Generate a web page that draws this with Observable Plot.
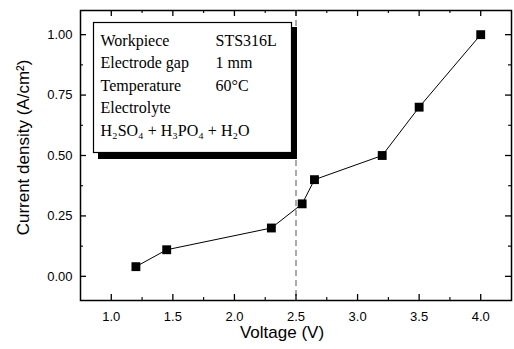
<!DOCTYPE html>
<html>
<head>
<meta charset="utf-8">
<script src="https://cdn.jsdelivr.net/npm/d3@7"></script>
<script src="https://cdn.jsdelivr.net/npm/@observablehq/plot@0.6"></script>
<style>
  html, body { margin: 0; padding: 0; background: #fff; }
  #chart svg { display: block; }
</style>
</head>
<body>
<div id="chart"></div>
<script>
// ---- data ----
const voltage = [1.2, 1.45, 2.3, 2.55, 2.65, 3.2, 3.5, 4.0];
const currentDensity = [0.04, 0.11, 0.2, 0.3, 0.4, 0.5, 0.7, 1.0];
const xTicks = [1.0, 1.5, 2.0, 2.5, 3.0, 3.5, 4.0];
const xMinorTicks = [1.25, 1.75, 2.25, 2.75, 3.25, 3.75];
const yTicks = [0.0, 0.25, 0.5, 0.75, 1.0];
const yMinorTicks = [0.125, 0.375, 0.625, 0.875];
const refLines = [2.5];
const legendLabels = ["Workpiece", "Electrode gap", "Temperature", "Electrolyte", "H\u2082SO\u2084 + H\u2083PO\u2084 + H\u2082O"];
const legendValues = ["STS316L", "1 mm", "60\u00B0C", "", ""];
const xLabel = "Voltage (V)";
const yLabel = "Current density (A/cm\u00B2)";

const rows = voltage.map((v, i) => ({v, c: currentDensity[i]}));

// ---- layout ----
const W = 514, H = 349, mL = 80, mR = 3, mT = 10, mB = 49;
const FH = H - mT - mB, FW = W - mL - mR;
const serif = "'Liberation Serif', 'Times New Roman', serif";
const sans = "'Liberation Sans', Arial, sans-serif";

const legendMarks = [];
legendLabels.forEach((t, i) => {
  legendMarks.push(Plot.text([t], {text: d => d, frameAnchor: "top-left", textAnchor: "start", lineAnchor: "middle",
    dx: 20, dy: 30 + i * 22.5, fontFamily: serif, fontSize: 16, fill: "black"}));
  if (legendValues[i]) legendMarks.push(Plot.text([legendValues[i]], {text: d => d, frameAnchor: "top-left", textAnchor: "start", lineAnchor: "middle",
    dx: 135, dy: 30 + i * 22.5, fontFamily: serif, fontSize: 16, fill: "black"}));
});

const chart = Plot.plot({
  width: W, height: H,
  marginLeft: mL, marginRight: mR, marginTop: mT, marginBottom: mB,
  style: {fontFamily: sans, background: "white", color: "black"},
  x: {domain: [0.75, 4.25]},
  y: {domain: [-0.1, 1.1]},
  marks: [
    Plot.ruleX(refLines, {x: d => d, stroke: "#555", strokeDasharray: "6,4", strokeWidth: 1}),
    // ticks (inward, mirrored)
    Plot.tickX(xTicks, {x: d => d, insetTop: FH - 6, stroke: "black", strokeWidth: 1.3}),
    Plot.tickX(xTicks, {x: d => d, insetBottom: FH - 6, stroke: "black", strokeWidth: 1.3}),
    Plot.tickX(xMinorTicks, {x: d => d, insetTop: FH - 3, stroke: "black", strokeWidth: 1.1}),
    Plot.tickX(xMinorTicks, {x: d => d, insetBottom: FH - 3, stroke: "black", strokeWidth: 1.1}),
    Plot.tickY(yTicks, {y: d => d, insetRight: FW - 6, stroke: "black", strokeWidth: 1.3}),
    Plot.tickY(yTicks, {y: d => d, insetLeft: FW - 6, stroke: "black", strokeWidth: 1.3}),
    Plot.tickY(yMinorTicks, {y: d => d, insetRight: FW - 3, stroke: "black", strokeWidth: 1.1}),
    Plot.tickY(yMinorTicks, {y: d => d, insetLeft: FW - 3, stroke: "black", strokeWidth: 1.1}),
    Plot.axisX(xTicks, {tickSize: 0, tickPadding: 11, tickFormat: d3.format(".1f"), fontSize: 13, label: null}),
    Plot.axisY(yTicks, {tickSize: 0, tickPadding: 8, tickFormat: d3.format(".2f"), fontSize: 13, label: null}),
    // data
    Plot.line(rows, {x: "v", y: "c", stroke: "black", strokeWidth: 1}),
    Plot.dot(rows, {x: "v", y: "c", symbol: "square", r: 5, fill: "black", stroke: "none"}),
    // legend box with drop shadow
    Plot.frame({insetLeft: 18, insetTop: 17, insetRight: 215, insetBottom: 142, fill: "black", stroke: "black"}),
    Plot.frame({insetLeft: 13, insetTop: 12, insetRight: 220, insetBottom: 148, fill: "white", stroke: "black", strokeWidth: 1.2}),
    ...legendMarks,
    // axis titles
    Plot.text([xLabel], {text: d => d, frameAnchor: "bottom", lineAnchor: "bottom", dx: -14, dy: 37, fontSize: 17, fontFamily: sans}),
    Plot.text([yLabel], {text: d => d, frameAnchor: "left", rotate: -90, textAnchor: "middle", lineAnchor: "middle", dx: -57, dy: -8, fontSize: 17, fontFamily: sans}),
    Plot.frame({stroke: "black", strokeWidth: 1.5})
  ]
});
document.getElementById("chart").appendChild(chart);
</script>
</body>
</html>
